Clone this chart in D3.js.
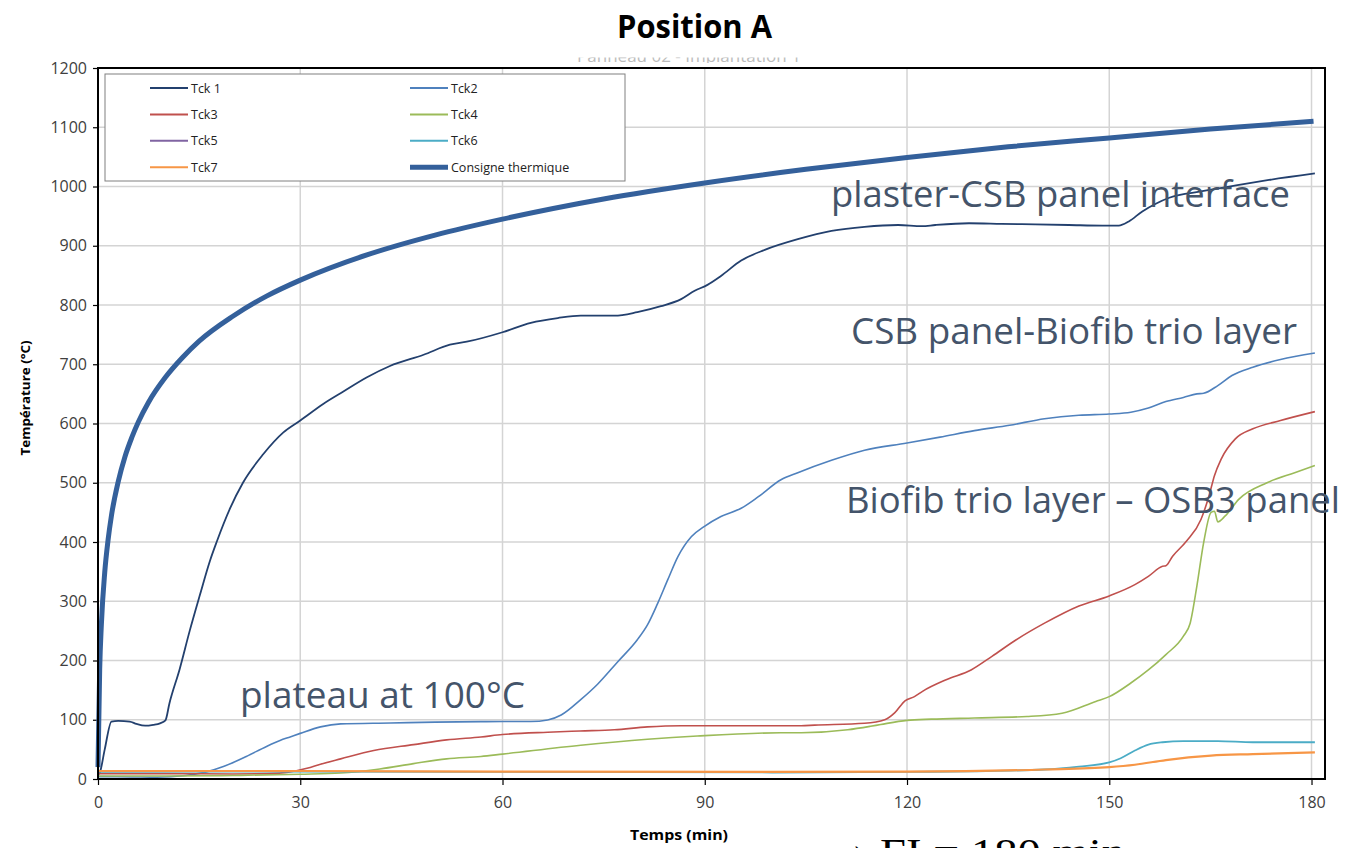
<!DOCTYPE html>
<html>
<head>
<meta charset="utf-8">
<script src="https://cdn.jsdelivr.net/npm/d3@7"></script>
<style>
  html, body { margin: 0; padding: 0; background: #ffffff; overflow: hidden; }
  svg { display: block; font-family: "Open Sans", "Noto Sans", sans-serif; }
</style>
</head>
<body>
<script>
// Fire test, position A: thermocouple readings (°C) versus time (min)
const xTicks = [0, 30, 60, 90, 120, 150, 180];
const yTicks = [0, 100, 200, 300, 400, 500, 600, 700, 800, 900, 1000, 1100, 1200];

const seriesNames = ["Tck 1", "Tck2", "Tck3", "Tck4", "Tck5", "Tck6", "Tck7", "Consigne thermique"];

// [time (min), temperature (°C)]
const consigne = [[0,20],[0.25,185],[0.5,261],[1,349],[1.5,404],[2,445],[3,502],[4,544],[5,576],[6,603],[7.5,636],[10,678],[12.5,711],[15,739],[20,781],[25,815],[30,842],[40,885],[50,918],[60,945],[75,979],[90,1006],[105,1029],[120,1049],[135,1067],[150,1082],[165,1097],[180.3,1110]];

const tck1 = [[0,7],[0.3,12],[1,50],[2,97],[3,98],[4.7,97],[5.7,93],[7,90],[8.2,91.5],[9.2,94],[10,99],[10.6,128],[12.1,185],[13.6,250],[15.1,310],[16.6,368],[17.6,400],[19.6,457],[21.5,500],[24.5,548],[27.5,585],[30,605],[33.4,633],[36.4,654],[39.9,678],[43.3,697],[48.3,716],[52.2,733],[54.7,738],[60,754],[64.2,770],[68.2,778],[71.6,782],[76.6,782],[80,788],[83.5,798],[86.5,810],[88.5,824],[90.4,834],[92.4,849],[95.4,875],[98.9,893],[103.8,911],[108.8,925],[113.7,932],[118.7,935],[122.2,933],[124.2,935],[129.2,938],[134,937],[139,936],[144,935],[149,934],[151.4,934],[152.9,941],[154.9,958],[156.9,971],[158.9,981],[163.8,992],[168.8,1002],[173.7,1011],[180.5,1022]];

const tck2 = [[0,4],[5,3.5],[8.7,3],[13,6],[16.1,12],[18.6,21],[22,38],[25,55],[27,65],[28.5,71],[30,77],[33,88],[36,93],[43.4,94.5],[50,96],[56.8,96.8],[60,97],[64.2,97],[66.7,99.6],[68.7,108],[71.6,134],[74.1,160],[77.1,198],[80,235],[81.5,260],[83,296],[84.5,336],[86,375],[88,409],[89.9,426],[92.4,443],[95.4,457],[97.9,476],[101.3,505],[103.8,517],[108.8,538],[113.7,555],[120,567],[124.9,577],[130,588],[135.2,597],[140.4,608],[145.5,614],[150,616],[153.2,619],[155.8,626],[158.4,637],[161,644],[163,650],[164,651],[166.1,664],[168.2,681],[171.3,695],[175.4,708],[180.5,719]];

const tck3 = [[0,9],[10,9],[20,8.5],[25,9],[28.5,12],[31,18],[33,25],[36,34],[40.9,48],[46.8,58],[51.7,66],[56.8,71],[60,75],[66.7,79],[71.5,81],[76.6,83],[81.5,88],[86.5,90],[96.4,90],[104.3,90],[106.3,91],[113.7,94],[116.7,100],[118.2,112],[119.7,132],[121.1,139],[122.3,148],[125.9,168],[129.5,184],[132.6,207],[136.2,235],[140.4,263],[145.5,292],[150,309],[153.8,328],[155.8,342],[157.9,359],[158.4,360],[159.4,376],[161.5,402],[163.6,438],[164.8,478],[165.6,512],[166.6,540],[168.7,574],[171.3,591],[175.4,605],[180.5,620]];

const tck4 = [[0,5],[10,5],[20,6],[30,8],[36,10],[41.8,17],[46.8,26],[51.7,34],[56.8,38],[60,42],[71.6,57],[81.5,67],[88.9,72.5],[101.3,78],[104.3,78],[111.2,83],[114.6,89],[116.1,92],[120,99],[123.6,101],[130,103],[137.8,105.5],[143,111],[148,131],[150,139],[153.2,162],[155.8,184],[158.4,210],[161,241],[162,263],[163,326],[164,399],[165.1,450],[165.6,452],[166.1,434],[167.2,444],[169.2,472],[173.4,500],[177.5,517],[180.5,529]];

const tck5 = [];

const tck6 = [[0,12],[20,12.5],[60,12],[100,11],[120,12],[130,13],[140.4,16],[145.5,21],[150,28],[151.7,35],[153.8,48],[155.8,58],[157.9,62],[161,64],[166.1,64],[171.3,62],[180.5,62]];

const tck7 = [[0,13.5],[30,13.5],[60,12.5],[100,12],[120,12.5],[140.4,16],[150,20],[153.8,24],[158.4,32],[165.1,39.5],[171.3,42],[180.5,45]];

const annotations = [
  { text: "plaster-CSB panel interface", x: 831, y: 207, w: 459 },
  { text: "CSB panel-Biofib trio layer", x: 851, y: 344, w: 446 },
  { text: "Biofib trio layer – OSB3 panel", x: 846, y: 513, w: 494 },
  { text: "plateau at 100°C", x: 240, y: 708, w: 285 }
];

const W = 1345, H = 848;
const plot = { left: 98, right: 1325, top: 68, bottom: 779 };

const x = d3.scaleLinear().domain([0, 182]).range([plot.left, plot.right]);
const y = d3.scaleLinear().domain([0, 1200]).range([plot.bottom, plot.top]);

const svg = d3.select("body").append("svg").attr("width", W).attr("height", H);

// Slide title
svg.append("text")
  .attr("x", 617).attr("y", 38)
  .attr("font-size", 32).attr("font-weight", 700).attr("fill", "#000")
  .attr("textLength", 155).attr("lengthAdjust", "spacingAndGlyphs")
  .text("Position A");

// Original chart title, mostly hidden behind the slide title strip
const defs = svg.append("defs");
defs.append("clipPath").attr("id", "subClip")
  .append("rect").attr("x", 0).attr("y", 57.5).attr("width", W).attr("height", 5.5);
svg.append("text")
  .attr("clip-path", "url(#subClip)")
  .attr("x", 689).attr("y", 62).attr("text-anchor", "middle")
  .attr("font-size", 17).attr("fill", "#bcbcbc")
  .text("Panneau 02 - Implantation 1");

// Grid
const grid = svg.append("g");
grid.selectAll("line.h").data(yTicks.filter(v => v > 0 && v < 1200)).enter().append("line")
  .attr("x1", plot.left).attr("x2", plot.right)
  .attr("y1", d => y(d)).attr("y2", d => y(d))
  .attr("stroke", "#d4d4d4").attr("stroke-width", 1.5);
grid.selectAll("line.v").data(xTicks.filter(v => v > 0)).enter().append("line")
  .attr("y1", plot.top).attr("y2", plot.bottom)
  .attr("x1", d => x(d)).attr("x2", d => x(d))
  .attr("stroke", "#d4d4d4").attr("stroke-width", 1.5);

// Axes
const yAxis = svg.append("g").attr("transform", `translate(${plot.left},0)`)
  .call(d3.axisLeft(y).tickValues(yTicks).tickSize(5).tickPadding(6).tickFormat(d3.format("d")));
const xAxis = svg.append("g").attr("transform", `translate(0,${plot.bottom})`)
  .call(d3.axisBottom(x).tickValues(xTicks).tickSize(6).tickPadding(12).tickFormat(d3.format("d")));
[yAxis, xAxis].forEach(a => {
  a.select(".domain").remove();
  a.selectAll(".tick line").attr("stroke", "#000").attr("stroke-width", 1.2);
  a.selectAll(".tick text").attr("fill", "#404040").attr("font-size", 16)
    .attr("font-family", "'Open Sans', sans-serif");
});

// Series
const line = d3.line().x(d => x(d[0])).y(d => y(d[1])).curve(d3.curveMonotoneX);
const series = [
  { name: seriesNames[0], data: tck1, color: "#23406e", width: 1.8 },
  { name: seriesNames[1], data: tck2, color: "#4f81bd", width: 1.6 },
  { name: seriesNames[2], data: tck3, color: "#c0504d", width: 1.6 },
  { name: seriesNames[3], data: tck4, color: "#9bbb59", width: 1.6 },
  { name: seriesNames[4], data: tck5, color: "#8064a2", width: 1.6 },
  { name: seriesNames[5], data: tck6, color: "#4bacc6", width: 1.8 },
  { name: seriesNames[6], data: tck7, color: "#f79646", width: 2.2 },
  { name: seriesNames[7], data: consigne, color: "#34609b", width: 5 }
];
svg.append("g").selectAll("path").data(series.filter(s => s.data.length)).enter().append("path")
  .attr("d", s => line(s.data))
  .attr("fill", "none")
  .attr("stroke", s => s.color)
  .attr("stroke-width", s => s.width)
  .attr("stroke-linejoin", "round");

// Plot frame
svg.append("rect")
  .attr("x", plot.left).attr("y", plot.top)
  .attr("width", plot.right - plot.left).attr("height", plot.bottom - plot.top)
  .attr("fill", "none").attr("stroke", "#000").attr("stroke-width", 2);

// Legend
const lg = svg.append("g");
lg.append("rect").attr("x", 105).attr("y", 74).attr("width", 520).attr("height", 107)
  .attr("fill", "#fff").attr("stroke", "#808080").attr("stroke-width", 1);
const lgItems = lg.selectAll("g.item").data(series).enter().append("g")
  .attr("transform", (s, i) => `translate(${i % 2 === 0 ? 150 : 410},${88 + Math.floor(i / 2) * 26.4})`);
lgItems.append("line").attr("x1", 0).attr("x2", 38).attr("y1", 0).attr("y2", 0)
  .attr("stroke", s => s.color).attr("stroke-width", s => s.width > 3 ? 5 : 2);
lgItems.append("text").attr("x", 41).attr("y", 4.5)
  .attr("font-size", 12.5).attr("fill", "#222")
  .text(s => s.name);

// Axis titles
svg.append("text")
  .attr("transform", "translate(30,398) rotate(-90)")
  .attr("text-anchor", "middle").attr("font-size", 13).attr("font-weight", 700).attr("fill", "#000")
  .attr("textLength", 115).attr("lengthAdjust", "spacingAndGlyphs")
  .text("Température (°C)");
svg.append("text")
  .attr("x", 630).attr("y", 840)
  .attr("font-size", 14).attr("font-weight", 700).attr("fill", "#000")
  .attr("textLength", 98).attr("lengthAdjust", "spacingAndGlyphs")
  .text("Temps (min)");

// Layer annotations
svg.append("g").selectAll("text").data(annotations).enter().append("text")
  .attr("x", d => d.x).attr("y", d => d.y)
  .attr("font-size", 36).attr("fill", "#44546a")
  .attr("textLength", d => d.w).attr("lengthAdjust", "spacingAndGlyphs")
  .text(d => d.text);

// Fire resistance note (runs off the bottom edge of the slide)
const note = svg.append("text")
  .attr("font-family", "'Liberation Serif', 'DejaVu Serif', serif")
  .attr("font-size", 40).attr("fill", "#000");
note.append("tspan").attr("x", 830).attr("y", 858).text("→");
note.append("tspan").attr("x", 880).attr("y", 866)
  .attr("textLength", 245).attr("lengthAdjust", "spacingAndGlyphs")
  .text("FI = 180 min");
</script>
</body>
</html>
